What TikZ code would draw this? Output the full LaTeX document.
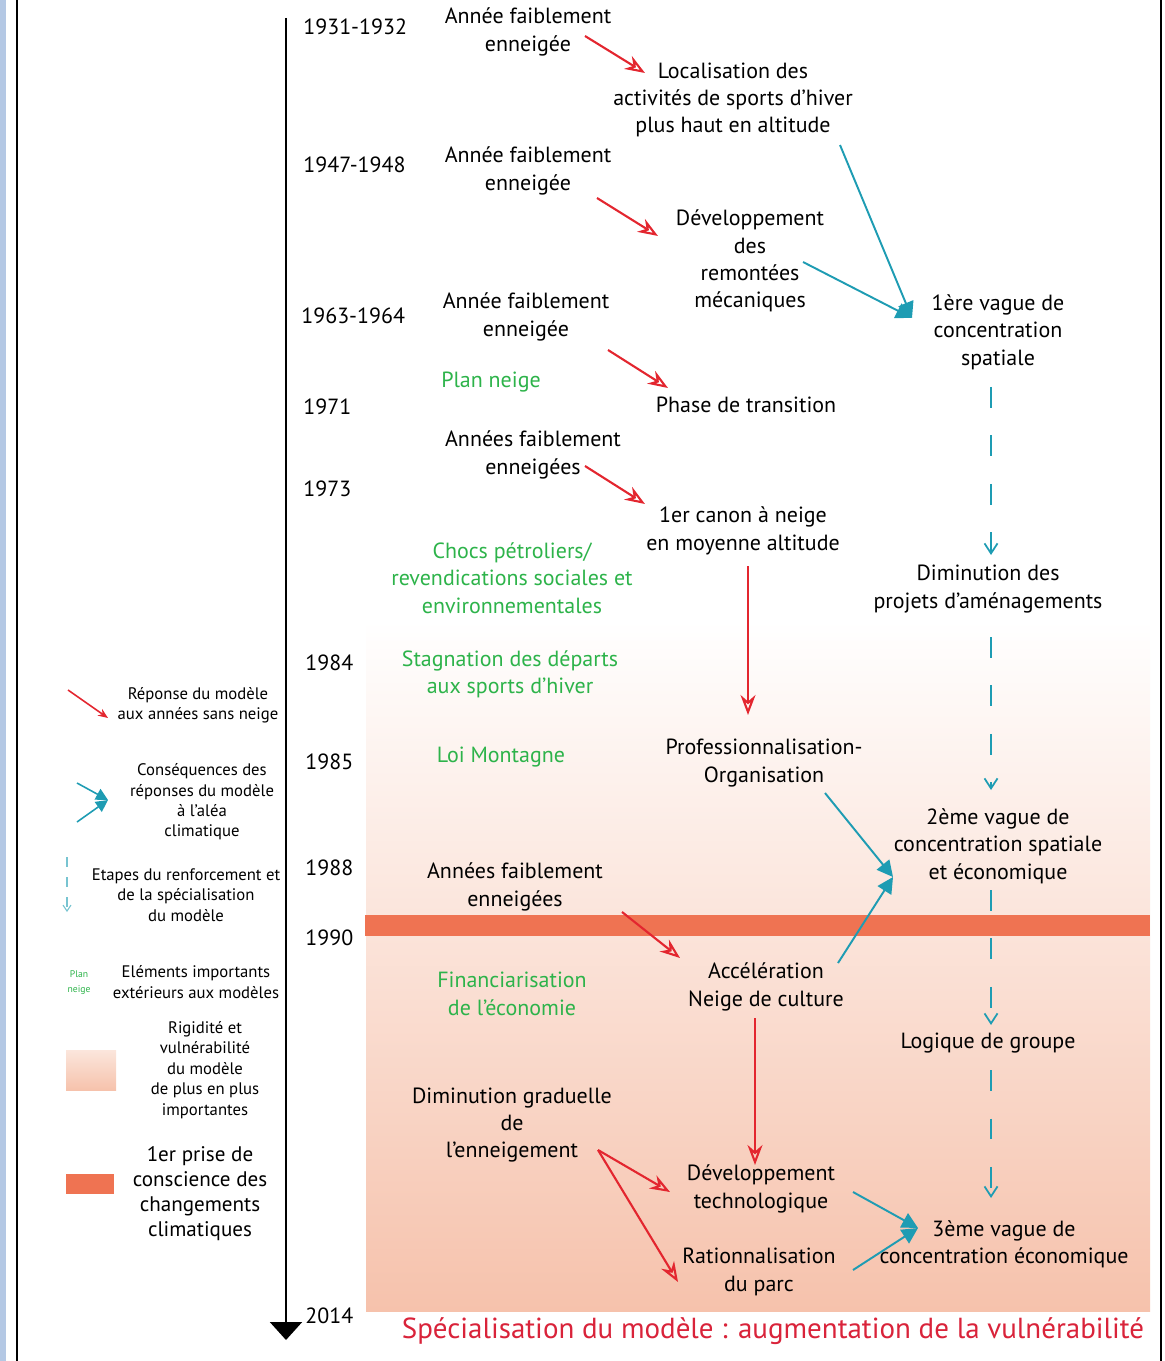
\documentclass[tikz,border=0pt]{standalone}
\usepackage{fontspec}
\setmainfont{PT Sans}
\usepackage{tikz}
\usetikzlibrary{arrows.meta, calc}
\definecolor{mred}{HTML}{E3262F}
\definecolor{mteal}{HTML}{1E9CB3}
\definecolor{mgreen}{HTML}{2DB34A}
\definecolor{mtitle}{HTML}{D9233A}
\definecolor{mband}{HTML}{EF7352}
\definecolor{mvuln}{HTML}{F6C2AC}
\definecolor{mvulnlight}{HTML}{FBE6DC}
\definecolor{mframe}{HTML}{B4C8E4}
\tikzset{
  txt/.style={align=center, inner sep=0pt, font=\fontsize{12.5}{15.6}\selectfont},
  gtxt/.style={txt, text=mgreen},
  yr/.style={anchor=west, inner sep=0pt, font=\fontsize{12.5}{15.6}\selectfont},
  leg/.style={align=center, inner sep=0pt, font=\fontsize{9.5}{11.6}\selectfont},
  rarr/.style={-{Stealth[open, length=4mm, width=3mm]}, line width=1.2pt, mred},
  barr/.style={-{Triangle[length=3.2mm, width=3.2mm]}, line width=1.1pt, mteal},
  darr/.style={-{Straight Barb[length=2mm, width=2.6mm]}, line width=1pt, mteal,
               dash pattern=on 0.42cm off 0.55cm},
}

\begin{document}
\begin{tikzpicture}[x=0.02cm, y=-0.02cm]
  \useasboundingbox (0,0) rectangle (1164,1361);
  % frame
  \fill[mframe] (0,0) rectangle (6,1361);
  \draw[line width=1.2pt] (17,0) -- (17,1361);
  \draw[line width=1.2pt] (1161,0) -- (1161,1361);

  % vulnerability background and 1990 band
  \shade[top color=white, bottom color=mvuln] (366,620) rectangle (1150,1311);
  \fill[mband] (365,915) rectangle (1150,936);

  % time axis
  \draw[line width=1.2pt, -{Triangle[length=0.36cm, width=0.64cm]}] (286,18) -- (286,1340);
  \node[yr] (y1931) at (303,27) {1931-1932};
  \node[yr] (y1947) at (303,165) {1947-1948};
  \node[yr] (y1963) at (301,316) {1963-1964};
  \node[yr] (y1971) at (303,407) {1971};
  \node[yr] (y1973) at (303,489) {1973};
  \node[yr] (y1984) at (305,663) {1984};
  \node[yr] (y1985) at (305,762) {1985};
  \node[yr] (y1988) at (305,868) {1988};
  \node[yr] (y1990) at (305,938) {1990};
  \node[yr] (y2014) at (305,1316) {2014};

  % snow-poor years
  \node[txt] (an1) at (528,32) {Année faiblement\\enneigée};
  \node[txt] (an2) at (528,171) {Année faiblement\\enneigée};
  \node[txt] (an3) at (526,317) {Année faiblement\\enneigée};
  \node[txt] (an4) at (533,455) {Années faiblement\\enneigées};
  \node[txt] (an5) at (515,887) {Années faiblement\\enneigées};
  \node[txt] (dimgrad) at (512,1125) {Diminution graduelle\\de\\l'enneigement};

  % outside elements
  \node[gtxt] (planneige) at (491,382) {Plan neige};
  \node[gtxt] (chocs) at (512,578) {Chocs pétroliers/\\revendications sociales et\\environnementales};
  \node[gtxt] (stagn) at (510,674) {Stagnation des départs\\aux sports d'hiver};
  \node[gtxt] (loimont) at (501,757) {Loi Montagne};
  \node[gtxt] (financ) at (512,994) {Financiarisation\\de l'économie};

  % responses of the model
  \node[txt] (local) at (733,100) {Localisation des\\activités de sports d'hiver\\plus haut en altitude};
  \node[txt] (remont) at (750,261) {Développement\\des\\remontées\\mécaniques};
  \node[txt] (transit) at (746,405) {Phase de transition};
  \node[txt] (canon) at (743,531) {1er canon à neige\\en moyenne altitude};
  \node[txt] (profess) at (764,763) {Professionnalisation-\\Organisation};
  \node[txt] (acceler) at (766,987) {Accélération\\Neige de culture};
  \node[txt] (devtech) at (761,1189) {Développement\\technologique};
  \node[txt] (ration) at (759,1272) {Rationnalisation\\du parc};

  % consequences
  \node[txt] (vague1) at (998,332) {1ère vague de\\concentration\\spatiale};
  \node[txt] (dimproj) at (988,589) {Diminution des\\projets d'aménagements};
  \node[txt] (vague2) at (998,846) {2ème vague de\\concentration spatiale\\et économique};
  \node[txt] (logique) at (988,1043) {Logique de groupe};
  \node[txt] (vague3) at (1004,1244) {3ème vague de\\concentration économique};

  \node[font=\fontsize{16.5}{19}\selectfont, text=mtitle, inner sep=0pt] (titre) at (773,1331)
    {Spécialisation du modèle : augmentation de la vulnérabilité};

  % red arrows
  \draw[rarr] ([shift={(57,4)}]an1.center) -- ([shift={(-88,-27)}]local.center);
  \draw[rarr] ([shift={(69,27)}]an2.center) -- ([shift={(-92,-25)}]remont.center);
  \draw[rarr] ([shift={(82,33)}]an3.center) -- ([shift={(-78,-17)}]transit.center);
  \draw[rarr] ([shift={(52,11)}]an4.center) -- ([shift={(-98,-27)}]canon.center);
  \draw[rarr] ([shift={(5,35)}]canon.center) -- ([shift={(-16,-48)}]profess.center);
  \draw[rarr] ([shift={(107,25)}]an5.center) -- ([shift={(-86,-29)}]acceler.center);
  \draw[rarr] ([shift={(-11,31)}]acceler.center) -- ([shift={(-6,-24)}]devtech.center);
  \draw[rarr] ([shift={(86,25)}]dimgrad.center) -- ([shift={(-91,3)}]devtech.center);
  \draw[rarr] ([shift={(86,25)}]dimgrad.center) -- ([shift={(-81,10)}]ration.center);

  % teal arrows
  \draw[barr] ([shift={(107,45)}]local.center) -- ([shift={(-86,-14)}]vague1.center);
  \draw[barr] ([shift={(53,1)}]remont.center) -- ([shift={(-86,-14)}]vague1.center);
  \draw[barr] ([shift={(61,30)}]profess.center) -- ([shift={(-105,31)}]vague2.center);
  \draw[barr] ([shift={(72,-24)}]acceler.center) -- ([shift={(-105,31)}]vague2.center);
  \draw[barr] ([shift={(92,3)}]devtech.center) -- ([shift={(-86,-16)}]vague3.center);
  \draw[barr] ([shift={(94,-2)}]ration.center) -- ([shift={(-86,-16)}]vague3.center);

  % dashed steps
  \draw[darr] ([shift={(-7,55)}]vague1.center) -- ([shift={(3,-34)}]dimproj.center);
  \draw[darr] ([shift={(3,48)}]dimproj.center) -- ([shift={(-7,-56)}]vague2.center);
  \draw[darr] ([shift={(-7,44)}]vague2.center) -- ([shift={(3,-18)}]logique.center);
  \draw[darr] ([shift={(3,27)}]logique.center) -- ([shift={(-13,-46)}]vague3.center);

  % legend
  \node[leg] (lrep) at (198,705) {Réponse du modèle\\aux années sans neige};
  \draw[mred, line width=0.9pt, -{Stealth[open, length=2mm, width=1.6mm]}]
    ([shift={(-130,-15)}]lrep.center) -- ([shift={(-90,13)}]lrep.center);
  \node[leg] (lcons) at (202,802) {Conséquences des\\réponses du modèle\\à l'aléa\\climatique};
  \draw[mteal, line width=0.9pt, -{Triangle[length=2.4mm, width=2.4mm]}]
    ([shift={(-125,-19)}]lcons.center) -- ([shift={(-94,-2)}]lcons.center);
  \draw[mteal, line width=0.9pt, -{Triangle[length=2.4mm, width=2.4mm]}]
    ([shift={(-125,20)}]lcons.center) -- ([shift={(-94,-2)}]lcons.center);
  \node[leg] (letap) at (186,895) {Etapes du renforcement et\\de la spécialisation\\du modèle};
  \draw[mteal!60, line width=0.6pt, dash pattern=on 0.2cm off 0.2cm,
        -{Straight Barb[length=1.2mm, width=1.6mm]}]
    ([shift={(-119,-38)}]letap.center) -- ([shift={(-119,17)}]letap.center);
  \node[leg, text=mgreen, font=\fontsize{5.5}{8.5}\selectfont] (lplan) at (79,983) {Plan\\neige};
  \node[leg] (lelem) at (196,982) {Eléments importants\\extérieurs aux modèles};
  \shade[top color=mvulnlight, bottom color=mvuln] (66,1050) rectangle (116,1090);
  \node[leg] (lrigid) at (205,1070) {Rigidité et\\vulnérabilité\\du modèle\\de plus en plus\\importantes};
  \fill[mband] (66,1174) rectangle (114,1194);
  \node[leg, font=\fontsize{12}{14.2}\selectfont] (lprise) at (200,1194)
    {1er prise de\\conscience des\\changements\\climatiques};
\end{tikzpicture}
\end{document}
